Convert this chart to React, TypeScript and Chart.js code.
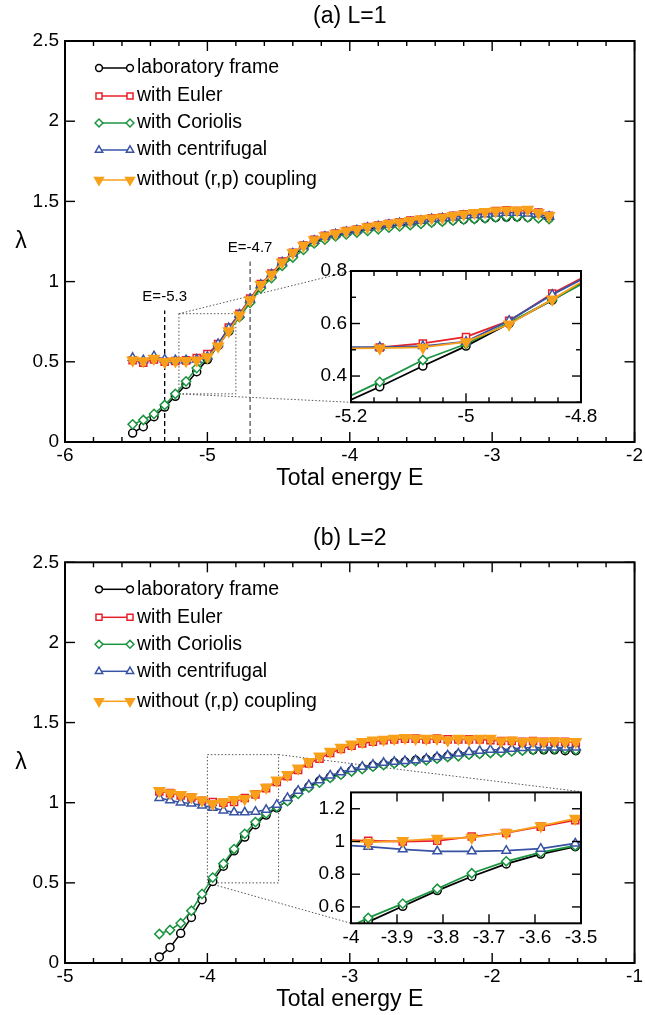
import React, { useEffect, useRef } from 'react';
import { Chart, registerables } from 'chart.js';

Chart.register(...registerables);

const FONT = "'Liberation Sans', Arial, Helvetica, sans-serif";

// ---------------- Data: panel (a) L=1 ----------------
const E_A = [
  -5.525, -5.45, -5.375, -5.3, -5.225, -5.15, -5.075, -5.0, -4.925, -4.85,
  -4.775, -4.7, -4.625, -4.55, -4.475, -4.4, -4.325, -4.25, -4.175, -4.1,
  -4.025, -3.95, -3.875, -3.8, -3.725, -3.65, -3.575, -3.5, -3.425, -3.35,
  -3.275, -3.2, -3.125, -3.05, -2.975, -2.9, -2.825, -2.75, -2.675, -2.6,
];
const LAB_A = [
  0.056, 0.095, 0.158, 0.218, 0.285, 0.359, 0.438, 0.514, 0.6, 0.689,
  0.785, 0.88, 0.97, 1.035, 1.11, 1.165, 1.21, 1.245, 1.27, 1.288,
  1.302, 1.314, 1.325, 1.335, 1.345, 1.352, 1.36, 1.366, 1.372, 1.378,
  1.383, 1.388, 1.392, 1.396, 1.4, 1.402, 1.404, 1.402, 1.4, 1.396,
];
const EULER_A = [
  0.51, 0.495, 0.515, 0.5, 0.505, 0.509, 0.524, 0.549, 0.61, 0.714,
  0.8, 0.895, 0.985, 1.05, 1.125, 1.18, 1.225, 1.26, 1.285, 1.3,
  1.315, 1.325, 1.34, 1.35, 1.36, 1.37, 1.38, 1.385, 1.395, 1.4,
  1.41, 1.42, 1.425, 1.43, 1.44, 1.445, 1.44, 1.445, 1.43, 1.41,
];
const CORIOLIS_A = [
  0.11, 0.137, 0.175, 0.231, 0.3, 0.378, 0.461, 0.522, 0.603, 0.69,
  0.778, 0.868, 0.958, 1.022, 1.098, 1.15, 1.198, 1.238, 1.262, 1.282,
  1.294, 1.306, 1.316, 1.326, 1.336, 1.344, 1.352, 1.36, 1.368, 1.374,
  1.38, 1.386, 1.39, 1.395, 1.4, 1.404, 1.404, 1.4, 1.395, 1.39,
];
const CENTRIF_A = [
  0.525, 0.51, 0.535, 0.515, 0.51, 0.51, 0.514, 0.531, 0.611, 0.71,
  0.795, 0.89, 0.98, 1.045, 1.12, 1.175, 1.22, 1.255, 1.28, 1.295,
  1.31, 1.32, 1.335, 1.345, 1.355, 1.365, 1.37, 1.38, 1.39, 1.395,
  1.4, 1.41, 1.415, 1.42, 1.425, 1.43, 1.43, 1.425, 1.42, 1.405,
];
const NOCOUP_A = [
  0.51, 0.505, 0.52, 0.5, 0.505, 0.506, 0.509, 0.53, 0.597, 0.692,
  0.79, 0.885, 0.98, 1.045, 1.12, 1.18, 1.225, 1.26, 1.285, 1.3,
  1.315, 1.325, 1.34, 1.35, 1.36, 1.37, 1.38, 1.39, 1.395, 1.4,
  1.41, 1.42, 1.43, 1.435, 1.44, 1.445, 1.445, 1.45, 1.43, 1.41,
];

// ---------------- Data: panel (b) L=2 ----------------
const E_B = [
  -4.3375, -4.2625, -4.1875, -4.1125, -4.0375, -3.9625, -3.8875, -3.8125, -3.7375, -3.6625,
  -3.5875, -3.5125, -3.4375, -3.3625, -3.2875, -3.2125, -3.1375, -3.0625, -2.9875, -2.9125,
  -2.8375, -2.7625, -2.6875, -2.6125, -2.5375, -2.4625, -2.3875, -2.3125, -2.2375, -2.1625,
  -2.0875, -2.0125, -1.9375, -1.8625, -1.7875, -1.7125, -1.6375, -1.5625, -1.4875, -1.4125,
];
const LAB_B = [
  0.038, 0.097, 0.185, 0.284, 0.395, 0.509, 0.604, 0.7, 0.786, 0.863,
  0.923, 0.968, 1.015, 1.065, 1.1, 1.135, 1.16, 1.18, 1.2, 1.215,
  1.23, 1.24, 1.25, 1.255, 1.265, 1.27, 1.28, 1.29, 1.3, 1.305,
  1.31, 1.315, 1.32, 1.325, 1.33, 1.33, 1.33, 1.33, 1.325, 1.325,
];
const EULER_B = [
  1.07, 1.06, 1.045, 1.033, 1.012, 1.004, 1.0, 1.004, 1.03, 1.052,
  1.091, 1.13, 1.165, 1.205, 1.245, 1.275, 1.31, 1.335, 1.355, 1.37,
  1.38, 1.39, 1.395, 1.4, 1.4, 1.395, 1.4, 1.395, 1.395, 1.395,
  1.395, 1.39, 1.385, 1.385, 1.38, 1.385, 1.38, 1.38, 1.38, 1.375,
];
const CORIOLIS_B = [
  0.181, 0.206, 0.248, 0.326, 0.431, 0.533, 0.62, 0.711, 0.806, 0.879,
  0.933, 0.974, 1.01, 1.055, 1.095, 1.125, 1.155, 1.175, 1.195, 1.21,
  1.225, 1.235, 1.245, 1.25, 1.26, 1.265, 1.275, 1.285, 1.29, 1.3,
  1.305, 1.31, 1.315, 1.32, 1.325, 1.33, 1.335, 1.335, 1.335, 1.33,
];
const CENTRIF_B = [
  1.03, 1.015, 1.002, 0.995, 0.982, 0.968, 0.952, 0.94, 0.94, 0.944,
  0.956, 0.988, 1.03, 1.075, 1.11, 1.14, 1.17, 1.19, 1.21, 1.225,
  1.237, 1.249, 1.255, 1.261, 1.265, 1.275, 1.286, 1.296, 1.307, 1.317,
  1.324, 1.33, 1.33, 1.336, 1.342, 1.344, 1.344, 1.344, 1.344, 1.344,
];
const NOCOUP_B = [
  1.075, 1.06, 1.05, 1.035, 1.015, 0.994, 1.004, 1.018, 1.024, 1.054,
  1.095, 1.14, 1.175, 1.215, 1.255, 1.29, 1.32, 1.345, 1.365, 1.38,
  1.39, 1.395, 1.4, 1.406, 1.4, 1.4, 1.4, 1.39, 1.4, 1.395,
  1.4, 1.4, 1.385, 1.39, 1.38, 1.385, 1.38, 1.385, 1.38, 1.38,
];

const SERIES_NAMES = [
  'laboratory frame',
  'with Euler',
  'with Coriolis',
  'with centrifugal',
  'without (r,p) coupling',
];

// ---------------- Tick labels ----------------
const MAIN_A_X_TICKS = [-6, -5, -4, -3, -2];
const MAIN_B_X_TICKS = [-5, -4, -3, -2, -1];
const MAIN_Y_TICKS = [0, 0.5, 1, 1.5, 2, 2.5];
const INSET_A_X_TICKS = [-5.2, -5, -4.8];
const INSET_A_Y_TICKS = [0.4, 0.6, 0.8];
const INSET_B_X_TICKS = [-4, -3.9, -3.8, -3.7, -3.6, -3.5];
const INSET_B_Y_TICKS = [0.6, 0.8, 1, 1.2];

const TITLE_A = '(a) L=1';
const TITLE_B = '(b) L=2';
const X_TITLE = 'Total energy E';
const Y_TITLE = 'λ';

// annotation values (data coordinates)
const E_MARKS_A = [
  { E: -5.3, top: 0.82, label: 'E=-5.3' },
  { E: -4.7, top: 1.125, label: 'E=-4.7' },
];
const ZOOM_A = { x: [-5.2, -4.8], y: [0.3, 0.8] };
const ZOOM_B = { x: [-4, -3.5], y: [0.5, 1.3] };

// ---------------- Styles ----------------
const STYLES = [
  { color: '#000000', shape: 'circle', fill: false, r: 4, rot: 0 },
  { color: '#e8202a', shape: 'rect', fill: false, r: 5, rot: 0 },
  { color: '#1b9440', shape: 'rectRot', fill: false, r: 4.6, rot: 0 },
  { color: '#3953a4', shape: 'triangle', fill: false, r: 5, rot: 0 },
  { color: '#f9a01b', shape: 'triangle', fill: true, r: 6, rot: 180 },
];
const MARK_COLORS = ['#000000', '#555555'];

const LAYOUT = {
  mainA: { box: { left: 0, top: 0, w: 645, h: 500 }, area: { left: 65, top: 41, right: 634.6, bottom: 442 } },
  insetA: { box: { left: 290, top: 255, w: 340, h: 190 }, area: { left: 351, top: 271, right: 581, bottom: 402.3 } },
  mainB: { box: { left: 0, top: 505, w: 645, h: 510 }, area: { left: 65, top: 562.3, right: 634.6, bottom: 963 } },
  insetB: { box: { left: 290, top: 775, w: 340, h: 185 }, area: { left: 351, top: 791.7, right: 581, bottom: 923.3 } },
};

const LEGEND_OFFSETS = [27, 55, 82, 109, 139];

function fmt(v: number) {
  return String(Math.round(v * 100) / 100);
}

function drawMarker(ctx: CanvasRenderingContext2D, s: any, x: number, y: number, r: number) {
  ctx.beginPath();
  if (s.shape === 'circle') {
    ctx.arc(x, y, r, 0, Math.PI * 2);
  } else if (s.shape === 'rect') {
    const h = r * Math.SQRT1_2;
    ctx.rect(x - h, y - h, 2 * h, 2 * h);
  } else if (s.shape === 'rectRot') {
    ctx.moveTo(x - r, y);
    ctx.lineTo(x, y - r);
    ctx.lineTo(x + r, y);
    ctx.lineTo(x, y + r);
    ctx.closePath();
  } else {
    let a = (s.rot * Math.PI) / 180;
    for (let k = 0; k < 3; k++) {
      const px = x + Math.sin(a) * r;
      const py = y - Math.cos(a) * r;
      if (k === 0) ctx.moveTo(px, py);
      else ctx.lineTo(px, py);
      a += (2 * Math.PI) / 3;
    }
    ctx.closePath();
  }
  ctx.fillStyle = s.fill ? s.color : '#ffffff';
  ctx.fill();
  ctx.strokeStyle = s.color;
  ctx.lineWidth = 1.5;
  ctx.stroke();
}

function minorValues(min: number, max: number, step: number, majors: number[]) {
  const out: number[] = [];
  if (!step) return out;
  const n = Math.round((max - min) / step);
  for (let k = 0; k <= n; k++) {
    const v = min + k * step;
    if (!majors.some((m) => Math.abs(m - v) < step * 0.01)) out.push(v);
  }
  return out;
}

function drawFrame(chart: any, spec: any) {
  const { ctx, chartArea: a, scales } = chart;
  const xs = scales.x;
  const ys = scales.y;
  ctx.save();
  ctx.setLineDash([]);
  ctx.strokeStyle = '#000';
  ctx.lineWidth = 1.4;
  const seg = (x1: number, y1: number, x2: number, y2: number) => {
    ctx.beginPath();
    ctx.moveTo(x1, y1);
    ctx.lineTo(x2, y2);
    ctx.stroke();
  };
  const xMin = minorValues(spec.x[0], spec.x[1], spec.xMinor, spec.xTicks);
  const yMin = minorValues(spec.y[0], spec.y[1], spec.yMinor, spec.yTicks);
  const M = spec.majorLen;
  const m = spec.minorLen;
  spec.xTicks.forEach((v: number) => {
    const p = xs.getPixelForValue(v);
    seg(p, a.bottom, p, a.bottom - M);
    seg(p, a.top, p, a.top + M);
  });
  xMin.forEach((v) => {
    const p = xs.getPixelForValue(v);
    seg(p, a.bottom, p, a.bottom - m);
    seg(p, a.top, p, a.top + m);
  });
  spec.yTicks.forEach((v: number) => {
    const p = ys.getPixelForValue(v);
    seg(a.left, p, a.left + M, p);
    seg(a.right, p, a.right - M, p);
  });
  yMin.forEach((v) => {
    const p = ys.getPixelForValue(v);
    seg(a.left, p, a.left + m, p);
    seg(a.right, p, a.right - m, p);
  });
  ctx.lineWidth = 2;
  ctx.strokeRect(a.left, a.top, a.right - a.left, a.bottom - a.top);
  ctx.restore();
}

function drawTitles(chart: any, title: string) {
  const { ctx, chartArea: a } = chart;
  ctx.save();
  ctx.fillStyle = '#000';
  ctx.font = `23px ${FONT}`;
  ctx.textAlign = 'center';
  ctx.textBaseline = 'middle';
  const cx = (a.left + a.right) / 2;
  ctx.fillText(title, cx, a.top - 24);
  ctx.fillText(X_TITLE, cx, a.bottom + 37);
  ctx.fillText(Y_TITLE, 21, (a.top + a.bottom) / 2);
  ctx.restore();
}

function drawLegend(chart: any) {
  const { ctx, chartArea: a } = chart;
  ctx.save();
  STYLES.forEach((s, i) => {
    const y = a.top + LEGEND_OFFSETS[i];
    const x0 = 99;
    const x1 = 130;
    ctx.setLineDash([]);
    ctx.strokeStyle = s.color;
    ctx.lineWidth = 1.5;
    ctx.beginPath();
    ctx.moveTo(x0, y);
    ctx.lineTo(x1, y);
    ctx.stroke();
    drawMarker(ctx, s, x0, y, s.r * 0.85);
    drawMarker(ctx, s, x1, y, s.r * 0.85);
    ctx.fillStyle = '#000';
    ctx.font = `19.5px ${FONT}`;
    ctx.textAlign = 'left';
    ctx.textBaseline = 'middle';
    ctx.fillText(SERIES_NAMES[i], 137, y);
  });
  ctx.restore();
}

function drawZoom(chart: any, zoom: any, inset: any, box: any, corners: string[][]) {
  const { ctx, scales } = chart;
  const xs = scales.x;
  const ys = scales.y;
  const L = xs.getPixelForValue(zoom.x[0]);
  const R = xs.getPixelForValue(zoom.x[1]);
  const B = ys.getPixelForValue(zoom.y[0]);
  const T = ys.getPixelForValue(zoom.y[1]);
  const ia = {
    left: inset.left - box.left,
    right: inset.right - box.left,
    top: inset.top - box.top,
    bottom: inset.bottom - box.top,
  };
  const rect: any = { TL: [L, T], TR: [R, T], BL: [L, B], BR: [R, B] };
  const ins: any = { TL: [ia.left, ia.top], TR: [ia.right, ia.top], BL: [ia.left, ia.bottom], BR: [ia.right, ia.bottom] };
  ctx.save();
  ctx.strokeStyle = '#555';
  ctx.lineWidth = 1;
  ctx.setLineDash([1.5, 2]);
  ctx.strokeRect(L, T, R - L, B - T);
  corners.forEach(([c1, c2]) => {
    ctx.beginPath();
    ctx.moveTo(rect[c1][0], rect[c1][1]);
    ctx.lineTo(ins[c2][0], ins[c2][1]);
    ctx.stroke();
  });
  ctx.restore();
}

function drawEMarks(chart: any, withLabels: boolean) {
  const { ctx, scales } = chart;
  const xs = scales.x;
  const ys = scales.y;
  ctx.save();
  E_MARKS_A.forEach((mk, i) => {
    const px = xs.getPixelForValue(mk.E);
    const top = ys.getPixelForValue(mk.top);
    if (!withLabels) {
      ctx.strokeStyle = MARK_COLORS[i];
      ctx.lineWidth = 1.3;
      ctx.setLineDash([5, 3]);
      ctx.beginPath();
      ctx.moveTo(px, ys.getPixelForValue(0));
      ctx.lineTo(px, top);
      ctx.stroke();
    } else {
      ctx.fillStyle = '#000';
      ctx.font = `15px ${FONT}`;
      ctx.textAlign = 'center';
      ctx.textBaseline = 'middle';
      ctx.fillText(mk.label, px, top - 14);
    }
  });
  ctx.restore();
}

function makeChart(canvas: HTMLCanvasElement, spec: any) {
  const L = spec.layout;
  const padding = {
    left: L.area.left - L.box.left - spec.yAxisW,
    top: L.area.top - L.box.top,
    right: L.box.left + L.box.w - L.area.right,
    bottom: L.box.top + L.box.h - L.area.bottom - spec.xAxisH,
  };
  const datasets = spec.series.map((vals: number[], i: number) => {
    const s = STYLES[i];
    return {
      label: SERIES_NAMES[i],
      data: spec.E.map((x: number, j: number) => ({ x, y: vals[j] })),
      showLine: true,
      borderColor: s.color,
      backgroundColor: s.color,
      borderWidth: spec.lineW,
      pointStyle: s.shape,
      pointRadius: s.r * spec.markScale,
      pointRotation: s.rot,
      pointBorderColor: s.color,
      pointBackgroundColor: s.fill ? s.color : '#ffffff',
      pointBorderWidth: 1.5,
      tension: 0,
      order: 5 - i,
      clip: spec.clip,
    };
  });
  const plugin = {
    id: 'decor',
    beforeDraw(chart: any) {
      if (spec.fillArea) {
        const a = chart.chartArea;
        chart.ctx.save();
        chart.ctx.fillStyle = '#ffffff';
        chart.ctx.fillRect(a.left, a.top, a.right - a.left, a.bottom - a.top);
        chart.ctx.restore();
      }
    },
    beforeDatasetsDraw(chart: any) {
      if (spec.under) spec.under(chart);
    },
    afterDatasetsDraw(chart: any) {
      drawFrame(chart, spec);
      if (spec.over) spec.over(chart);
    },
  };
  const tickFont = { family: FONT, size: spec.tickFont };
  return new Chart(canvas, {
    type: 'scatter',
    data: { datasets },
    options: {
      responsive: false,
      maintainAspectRatio: false,
      animation: false,
      devicePixelRatio: 1,
      events: [],
      layout: { padding },
      plugins: {
        legend: { display: false },
        tooltip: { enabled: false },
        title: { display: false },
      },
      scales: {
        x: {
          type: 'linear',
          position: 'bottom',
          min: spec.x[0],
          max: spec.x[1],
          grid: { display: false, drawTicks: false },
          border: { display: false },
          afterBuildTicks: (s: any) => {
            s.ticks = spec.xTicks.map((v: number) => ({ value: v }));
          },
          afterFit: (s: any) => {
            s.height = spec.xAxisH;
          },
          ticks: {
            font: tickFont,
            color: '#000',
            padding: spec.xPad,
            maxRotation: 0,
            minRotation: 0,
            autoSkip: false,
            callback: (v: number) => fmt(v),
          },
        },
        y: {
          type: 'linear',
          position: 'left',
          min: spec.y[0],
          max: spec.y[1],
          grid: { display: false, drawTicks: false },
          border: { display: false },
          afterBuildTicks: (s: any) => {
            s.ticks = spec.yTicks.map((v: number) => ({ value: v }));
          },
          afterFit: (s: any) => {
            s.width = spec.yAxisW;
          },
          ticks: {
            font: tickFont,
            color: '#000',
            padding: spec.yPad,
            autoSkip: false,
            callback: (v: number) => fmt(v),
          },
        },
      },
    },
    plugins: [plugin],
  } as any);
}

const SERIES_A = [LAB_A, EULER_A, CORIOLIS_A, CENTRIF_A, NOCOUP_A];
const SERIES_B = [LAB_B, EULER_B, CORIOLIS_B, CENTRIF_B, NOCOUP_B];

const SPECS: any[] = [
  {
    layout: LAYOUT.mainA,
    E: E_A,
    series: SERIES_A,
    x: [-6, -2],
    y: [0, 2.5],
    xTicks: MAIN_A_X_TICKS,
    yTicks: MAIN_Y_TICKS,
    xMinor: 0.2,
    yMinor: 0,
    majorLen: 10,
    minorLen: 5,
    tickFont: 19,
    xPad: 2,
    yPad: 6,
    yAxisW: 45,
    xAxisH: 30,
    lineW: 1.5,
    markScale: 1,
    clip: undefined,
    under: (c: any) => {
      drawEMarks(c, false);
      drawZoom(c, ZOOM_A, LAYOUT.insetA.area, LAYOUT.mainA.box, [['TL', 'TL'], ['BL', 'BL']]);
    },
    over: (c: any) => {
      drawEMarks(c, true);
      drawLegend(c);
      drawTitles(c, TITLE_A);
    },
  },
  {
    layout: LAYOUT.mainB,
    E: E_B,
    series: SERIES_B,
    x: [-5, -1],
    y: [0, 2.5],
    xTicks: MAIN_B_X_TICKS,
    yTicks: MAIN_Y_TICKS,
    xMinor: 0.2,
    yMinor: 0,
    majorLen: 10,
    minorLen: 5,
    tickFont: 19,
    xPad: 2,
    yPad: 6,
    yAxisW: 45,
    xAxisH: 30,
    lineW: 1.5,
    markScale: 1,
    clip: undefined,
    under: (c: any) => {
      drawZoom(c, ZOOM_B, LAYOUT.insetB.area, LAYOUT.mainB.box, [['TR', 'TR'], ['BL', 'BL']]);
    },
    over: (c: any) => {
      drawLegend(c);
      drawTitles(c, TITLE_B);
    },
  },
  {
    layout: LAYOUT.insetA,
    E: E_A,
    series: SERIES_A,
    x: [-5.2, -4.8],
    y: [0.3, 0.8],
    xTicks: INSET_A_X_TICKS,
    yTicks: INSET_A_Y_TICKS,
    xMinor: 0.04,
    yMinor: 0.1,
    majorLen: 9,
    minorLen: 5,
    tickFont: 19,
    xPad: 3,
    yPad: 4,
    yAxisW: 45,
    xAxisH: 30,
    lineW: 1.8,
    markScale: 1,
    clip: 0,
    fillArea: true,
  },
  {
    layout: LAYOUT.insetB,
    E: E_B,
    series: SERIES_B,
    x: [-4, -3.5],
    y: [0.5, 1.3],
    xTicks: INSET_B_X_TICKS,
    yTicks: INSET_B_Y_TICKS,
    xMinor: 0,
    yMinor: 0,
    majorLen: 9,
    minorLen: 5,
    tickFont: 19,
    xPad: 3,
    yPad: 6,
    yAxisW: 45,
    xAxisH: 30,
    lineW: 1.8,
    markScale: 1,
    clip: 0,
    fillArea: true,
  },
];

export default function App() {
  const canvases = useRef<(HTMLCanvasElement | null)[]>([]);
  useEffect(() => {
    const charts = SPECS.map((spec, i) => makeChart(canvases.current[i] as HTMLCanvasElement, spec));
    return () => charts.forEach((c) => c.destroy());
  }, []);
  return (
    <div style={{ position: 'absolute', left: 0, top: 0, width: 645, height: 1015, background: '#ffffff', overflow: 'hidden' }}>
      {SPECS.map((s, i) => (
        <canvas
          key={i}
          ref={(el) => {
            canvases.current[i] = el;
          }}
          width={s.layout.box.w}
          height={s.layout.box.h}
          style={{
            position: 'absolute',
            left: s.layout.box.left,
            top: s.layout.box.top,
            width: s.layout.box.w,
            height: s.layout.box.h,
          }}
        />
      ))}
    </div>
  );
}
